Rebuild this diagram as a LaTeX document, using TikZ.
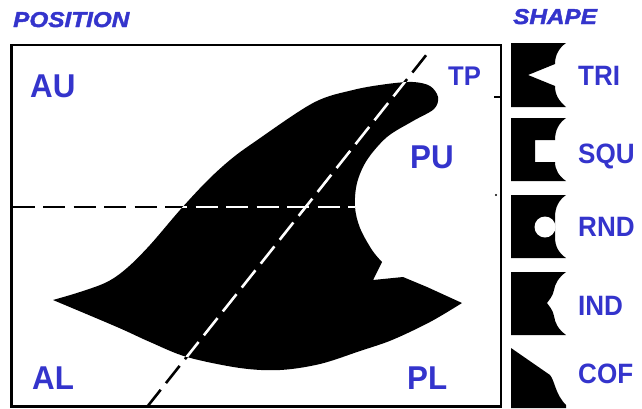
\documentclass[tikz,border=0pt]{standalone}
\usepackage{fontspec}
\setmainfont{Liberation Sans}
\newfontfamily\labelfont[FakeStretch=0.95]{Liberation Sans}
\newfontfamily\shapefont[FakeStretch=0.93]{Liberation Sans}
\newfontfamily\headfont[FakeStretch=1.13,BoldItalicFeatures={FakeBold=2}]{Liberation Sans}
\definecolor{labelblue}{RGB}{52,52,204}

% outline of the fin: smooth leading edge and tip, notch, smooth base
\newcommand\finoutline{plot[smooth,tension=0.55] coordinates {(53,300) (80,292) (107,282) (127,268) (150,245) (180,210) (207,181) (230,160) (253,143) (313,103) (353,90) (387,84) (413,82) (430,86) (438,97) (434,109) (413,121) (387,137) (367,160) (357,183) (355,207) (360,228) (372,250) (382,262)}
  -- (373,280) -- (403,277) -- (427,287) -- (462,303)
  -- plot[smooth,tension=0.55] coordinates {(462,303) (430,322) (392,340) (360,351) (320,364) (280,370) (240,368) (187,357) (150,342) (117,327) (53,300)} -- cycle}

\begin{document}
\begin{tikzpicture}[x=1pt,y=-1pt,
  poslabel/.style={anchor=base west,inner sep=0pt,text=labelblue,
    font=\labelfont\bfseries\fontsize{33}{33}\selectfont},
  smalllabel/.style={poslabel,font=\labelfont\bfseries\fontsize{27}{27}\selectfont},
  shapelabel/.style={anchor=base west,inner sep=0pt,text=labelblue,
    font=\shapefont\bfseries\fontsize{28}{28}\selectfont},
  heading/.style={anchor=base west,inner sep=0pt,text=labelblue,
    font=\headfont\bfseries\itshape\fontsize{21.5}{21.5}\selectfont},
  guide/.style={line width=2.6pt,dash pattern=on 22pt off 8.5pt},
  frameline/.style={line width=2.4pt}]
\useasboundingbox (0,0) rectangle (642,408);

% headings
\node[heading] (position) at (13,27) {POSITION};
\node[heading] (shape) at (513,24) {SHAPE};

% frame with two marks on its right side
\draw[frameline] (11.3,44.7) rectangle (501.2,406.5);
\draw[line width=2pt] (494,97) -- (500,97);
\fill (496,195) circle[radius=1.2pt];

% the fin
\fill \finoutline;

% reference lines: black on the paper, white across the fin
\coordinate (hstart) at (12.5,207);
\coordinate (hend) at (355,207);
\coordinate (dstart) at (147,407);
\coordinate (dend) at (431,49);
\draw[guide] (hstart) -- (hend);
\draw[guide] (dstart) -- (dend);
\begin{scope}
  \clip \finoutline;
  \draw[guide,white] (hstart) -- (hend);
  \draw[guide,white] (dstart) -- (dend);
\end{scope}

% position labels
\node[poslabel] (au) at (30,97) {AU};
\node[smalllabel] (tp) at (448,85) {TP};
\node[poslabel] (pu) at (410,168) {PU};
\node[poslabel] (al) at (32,389) {AL};
\node[poslabel] (pl) at (407,389) {PL};

% shape icons
\begin{scope}[shift={(0,43)}]
  \fill (511,0) -- (566,0) .. controls (559,5) and (555,12) .. (555,21)
    -- (528,32) -- (555,43) .. controls (555,52) and (559,58) .. (566,64)
    -- (511,64) -- cycle;
\end{scope}
\begin{scope}[shift={(0,118)}]
  \fill (511,0) -- (566,0) .. controls (559,5) and (555,12) .. (555,22)
    -- (535,22) -- (535,44) -- (555,44) .. controls (555,52) and (559,58) .. (566,63)
    -- (511,63) -- cycle;
\end{scope}
\begin{scope}[shift={(0,195)}]
  \fill (511,0) -- (566,0) .. controls (559,5) and (555,12) .. (555,22)
    -- (555,42) .. controls (555,52) and (559,58) .. (566,63)
    -- (511,63) -- cycle;
  \fill[white] (545,32) circle[radius=10.5pt];
\end{scope}
\begin{scope}[shift={(0,272)}]
  \fill (511,0) -- (566,0) .. controls (558,6) and (555,12) .. (554,18)
    .. controls (553,24) and (549,28) .. (547,31)
    .. controls (549,34) and (553,38) .. (554,44)
    .. controls (555,51) and (558,57) .. (566,63)
    -- (511,63) -- cycle;
\end{scope}
\begin{scope}[shift={(0,348)}]
  \fill (511,0) -- (550,27) .. controls (555,33) and (555,46) .. (566,57)
    -- (566,60) -- (511,60) -- cycle;
\end{scope}

% shape labels
\node[shapelabel] (tri) at (578,85) {TRI};
\node[shapelabel] (squ) at (578,163) {SQU};
\node[shapelabel] (rnd) at (578,236) {RND};
\node[shapelabel] (ind) at (578,315) {IND};
\node[shapelabel] (cof) at (578,383) {COF};
\end{tikzpicture}
\end{document}
